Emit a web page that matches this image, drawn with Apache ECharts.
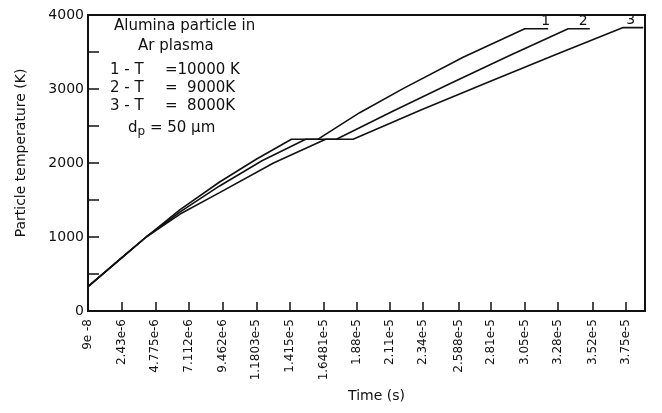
<!DOCTYPE html>
<html>
<head>
<meta charset="utf-8">
<script src="https://cdn.jsdelivr.net/npm/echarts@6/dist/echarts.min.js"></script>
<style>
  html, body { margin: 0; padding: 0; background: #fff; }
  #chart { width: 662px; height: 413px; }
</style>
</head>
<body>
<div id="chart"></div>
<script>
// tick positions (s) and the labels printed under them
var tickTimes = [9e-8, 2.43e-6, 4.775e-6, 7.112e-6, 9.462e-6, 1.1803e-5, 1.415e-5, 1.6481e-5,
  1.88e-5, 2.11e-5, 2.34e-5, 2.588e-5, 2.81e-5, 3.05e-5, 3.28e-5, 3.52e-5, 3.75e-5];
var tickLabels = ["9e -8", "2.43e-6", "4.775e-6", "7.112e-6", "9.462e-6", "1.1803e-5", "1.415e-5", "1.6481e-5",
  "1.88e-5", "2.11e-5", "2.34e-5", "2.588e-5", "2.81e-5", "3.05e-5", "3.28e-5", "3.52e-5", "3.75e-5"];

// curve names (labels at the end of each curve)
var curveNames = ["1", "2", "3"];

// curve 1 : T = 10000 K
var time1 = [9e-8, 2.51e-6, 4.14e-6, 6.5e-6, 9.25e-6, 1.18e-5, 1.425e-5, 1.608e-5, 1.9e-5, 2.202e-5, 2.62e-5, 3.049e-5, 3.212e-5];
var temp1 = [330, 730, 1000, 1370, 1743, 2050, 2320, 2320, 2680, 3005, 3430, 3815, 3815];
// curve 2 : T = 9000 K
var time2 = [9e-8, 2.51e-6, 4.14e-6, 6.5e-6, 9.25e-6, 1.22e-5, 1.524e-5, 1.738e-5, 2.13e-5, 2.527e-5, 2.94e-5, 3.351e-5, 3.502e-5];
var temp2 = [330, 730, 1000, 1340, 1690, 2030, 2320, 2320, 2700, 3070, 3450, 3815, 3815];
// curve 3 : T = 8000 K
var time3 = [9e-8, 2.51e-6, 4.14e-6, 6.5e-6, 9.25e-6, 1.3e-5, 1.663e-5, 1.854e-5, 2.33e-5, 2.806e-5, 3.27e-5, 3.734e-5, 3.874e-5];
var temp3 = [330, 730, 1000, 1310, 1600, 2000, 2320, 2320, 2720, 3100, 3470, 3830, 3830];

var ink = "#111";
var font = "DejaVu Sans";

function makeSeries(name, times, temps, labelShift) {
  var data = [];
  for (var i = 0; i < times.length; i++) {
    data.push([times[i], temps[i]]);
  }
  return {
    name: name,
    type: "line",
    data: data,
    showSymbol: false,
    symbol: "none",
    lineStyle: { color: ink, width: 1.6 },
    itemStyle: { color: ink },
    endLabel: {
      show: true,
      formatter: name,
      offset: [labelShift, -7],
      color: ink,
      fontFamily: font,
      fontSize: 14
    },
    silent: true
  };
}

function labelFor(value) {
  for (var i = 0; i < tickTimes.length; i++) {
    if (Math.abs(tickTimes[i] - value) < 1e-9) return tickLabels[i];
  }
  return "";
}

var chart = echarts.init(document.getElementById("chart"), null, { renderer: "canvas" });

var textStyle = { fill: ink, font: "15px " + font };

var option = {
  animation: false,
  backgroundColor: "#fff",
  grid: {
    left: 88,
    right: 17,
    top: 15,
    bottom: 102,
    show: true,
    borderColor: ink,
    borderWidth: 2,
    containLabel: false
  },
  xAxis: {
    type: "value",
    min: 9e-8,
    max: 3.886e-5,
    name: "Time (s)",
    nameLocation: "middle",
    nameGap: 78,
    nameTextStyle: { color: ink, fontFamily: font, fontSize: 14, padding: [0, 0, 0, 20] },
    axisLine: { show: true, lineStyle: { color: ink, width: 2 } },
    axisTick: { show: true, inside: true, length: 9, customValues: tickTimes, lineStyle: { color: ink, width: 1.5 } },
    axisLabel: {
      show: true,
      customValues: tickTimes,
      rotate: 90,
      margin: 8,
      color: ink,
      fontFamily: font,
      fontSize: 12,
      formatter: function (v) { return labelFor(v); }
    },
    splitLine: { show: false }
  },
  yAxis: {
    type: "value",
    min: 0,
    max: 4000,
    interval: 500,
    name: "Particle temperature (K)",
    nameLocation: "middle",
    nameRotate: 90,
    nameGap: 60,
    nameTextStyle: { color: ink, fontFamily: font, fontSize: 14, padding: [0, 0, 0, 20] },
    axisLine: { show: true, lineStyle: { color: ink, width: 2 } },
    axisTick: { show: true, inside: true, length: 11, lineStyle: { color: ink, width: 1.5 } },
    axisLabel: {
      color: ink,
      fontFamily: font,
      fontSize: 14,
      margin: 4,
      formatter: function (v) { return v % 1000 === 0 ? String(v) : ""; }
    },
    splitLine: { show: false }
  },
  graphic: [
    { type: "text", left: 114, top: 19, style: Object.assign({ text: "Alumina particle in" }, textStyle) },
    { type: "text", left: 138, top: 39, style: Object.assign({ text: "Ar plasma" }, textStyle) },
    { type: "text", left: 110, top: 63, style: Object.assign({ text: "1 - T" }, textStyle) },
    { type: "text", left: 165, top: 63, style: Object.assign({ text: "=10000 K" }, textStyle) },
    { type: "text", left: 110, top: 81, style: Object.assign({ text: "2 - T" }, textStyle) },
    { type: "text", left: 165, top: 81, style: Object.assign({ text: "=  9000K" }, textStyle) },
    { type: "text", left: 110, top: 99, style: Object.assign({ text: "3 - T" }, textStyle) },
    { type: "text", left: 165, top: 99, style: Object.assign({ text: "=  8000K" }, textStyle) },
    {
      type: "text", left: 128, top: 121,
      style: {
        text: "d{s|p} = 50 \u03bcm",
        fill: ink,
        font: "15px " + font,
        rich: { s: { fontSize: 12, fontFamily: font, fill: ink, padding: [6, 0, 0, 0] } }
      }
    }
  ],
  series: [
    makeSeries(curveNames[0], time1, temp1, -15),
    makeSeries(curveNames[1], time2, temp2, -19),
    makeSeries(curveNames[2], time3, temp3, -25)
  ]
};

chart.setOption(option);
</script>
</body>
</html>
